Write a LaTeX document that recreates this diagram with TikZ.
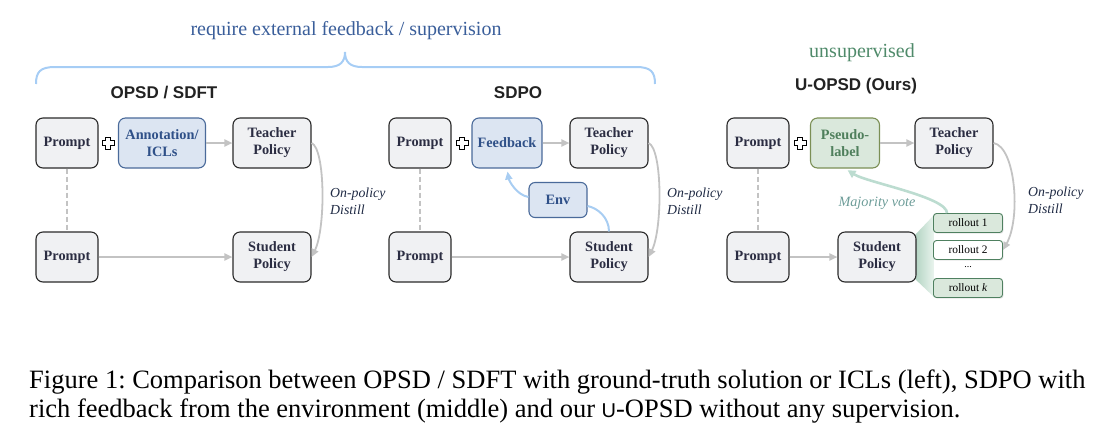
\documentclass[tikz,border=0pt]{standalone}
\usepackage{fontspec}
\setmainfont{Liberation Serif}
\setsansfont{Liberation Sans}
\usetikzlibrary{arrows.meta,calc,shadows}
\definecolor{boxfill}{HTML}{F0F1F3}
\definecolor{boxdraw}{HTML}{2A2A2A}
\definecolor{boxtext}{HTML}{2B2D42}
\definecolor{bluefill}{HTML}{DCE5F2}
\definecolor{bluedraw}{HTML}{4A6A9A}
\definecolor{bluetext}{HTML}{2F5088}
\definecolor{greenfill}{HTML}{DAE8DC}
\definecolor{greendraw}{HTML}{7B8F55}
\definecolor{greentext}{HTML}{4F7F5C}
\definecolor{rolldraw}{HTML}{4F8060}
\definecolor{arrgray}{HTML}{C3C3C3}
\definecolor{envblue}{HTML}{A8CDF2}
\definecolor{mvteal}{HTML}{BCDCD0}
\definecolor{mvtext}{HTML}{6C9C98}
\definecolor{titleblue}{HTML}{3A5E9A}
\definecolor{unsupgreen}{HTML}{4F8A6A}
\definecolor{headtext}{HTML}{222222}
\definecolor{distext}{HTML}{1F2A44}
\definecolor{bracecol}{HTML}{A6CDF5}
\definecolor{fanA}{HTML}{AFD2C0}
\definecolor{fanB}{HTML}{EAF4EE}
\tikzset{
  basebox/.style={rounded corners=7pt, line width=1.1pt, minimum height=50pt,
    align=center, inner sep=0pt, font=\fontsize{14.3}{17}\selectfont\bfseries},
  gbox/.style={basebox, draw=boxdraw, fill=boxfill, text=boxtext},
  bbox/.style={basebox, draw=bluedraw, fill=bluefill, text=bluetext},
  grbox/.style={basebox, draw=greendraw, fill=greenfill, text=greentext},
  rollbox/.style={rounded corners=3pt, line width=0.9pt, draw=rolldraw, fill=greenfill,
    minimum width=69pt, minimum height=19pt, inner sep=0pt,
    drop shadow={shadow xshift=1pt, shadow yshift=-1.2pt, opacity=0.2},
    font=\fontsize{11.4}{13}\selectfont, text=black},
  head/.style={font=\fontsize{17}{20}\selectfont\sffamily\bfseries, text=headtext},
  grayarr/.style={draw=arrgray, line width=1.8pt, -{Triangle[length=8pt,width=7pt]}},
  distarr/.style={draw=arrgray, line width=1.8pt, -{Triangle[length=8pt,width=7pt]}},
  distlabel/.style={font=\fontsize{13.8}{17}\selectfont\itshape, text=distext, align=left, anchor=west, inner sep=0pt},
  dashline/.style={draw=arrgray, line width=1.6pt, dash pattern=on 5pt off 3pt},
  envarr/.style={draw=envblue, line width=2pt, -{Triangle[length=8pt,width=7pt]}},
  envline/.style={draw=envblue, line width=2pt},
  mvarr/.style={draw=mvteal, line width=2.6pt, -{Triangle[length=8pt,width=8pt]}},
  captext/.style={anchor=base west, inner sep=0pt, font=\fontsize{26.5}{29}\selectfont},
  plussign/.pic={\draw[line width=0.9pt, fill=white, line join=miter]
    (-2.1,-6) -- (2.1,-6) -- (2.1,-2.1) -- (6,-2.1) -- (6,2.1) -- (2.1,2.1)
    -- (2.1,6) -- (-2.1,6) -- (-2.1,2.1) -- (-6,2.1) -- (-6,-2.1) -- (-2.1,-2.1) -- cycle;}
}
\frenchspacing
\begin{document}
\begin{tikzpicture}[x=1pt,y=-1pt]
\useasboundingbox (0,0) rectangle (1115,440);

% title and brace
\node[font=\fontsize{20}{24}\selectfont, text=titleblue] (title) at (346,31) {require external feedback / supervision};
\draw[draw=bracecol, line width=2pt]
  (36,84) .. controls (36,72) and (40,67) .. (55,67) -- (328,67)
  .. controls (340,67) and (345,62) .. (345,52)
  .. controls (345,62) and (350,67) .. (362,67) -- (636,67)
  .. controls (651,67) and (655,72) .. (655,84);
\node[font=\fontsize{20}{24}\selectfont, text=unsupgreen] (unsup) at (862,53) {unsupervised};

% headers
\node[head] (h1) at (164,93) {OPSD / SDFT};
\node[head] (h2) at (518,93) {SDPO};
\node[head] (h3) at (856,86) {U-OPSD (Ours)};

% ---------- panel 1 ----------
\node[gbox, minimum width=62pt] (pt1) at (67,143) {Prompt};
\node[bbox, minimum width=87pt] (an1) at (162,143) {Annotation/\\ICLs};
\node[gbox, minimum width=78pt] (tp1) at (272,143) {Teacher\\Policy};
\node[gbox, minimum width=62pt] (pb1) at (67,257) {Prompt};
\node[gbox, minimum width=78pt] (st1) at (272,257) {Student\\Policy};
\pic at (108,143) {plussign};
\draw[grayarr] (an1) -- (tp1);
\draw[dashline] (pt1) -- (pb1);
\draw[grayarr] (pb1) -- (st1);
\draw[distarr] (tp1.east) .. controls +(14,6) and +(14,-28) .. (st1.east);
\node[distlabel] (d1) at (330,201) {On-policy\\Distill};

% ---------- panel 2 ----------
\node[gbox, minimum width=62pt] (pt2) at (420,143) {Prompt};
\node[bbox, minimum width=70pt] (fb2) at (507,143) {Feedback};
\node[gbox, minimum width=78pt] (tp2) at (609,143) {Teacher\\Policy};
\node[bbox, minimum width=58pt, minimum height=35pt, rounded corners=6pt] (env) at (558,200) {Env};
\node[gbox, minimum width=62pt] (pb2) at (420,257) {Prompt};
\node[gbox, minimum width=78pt] (st2) at (609,257) {Student\\Policy};
\pic at (462,143) {plussign};
\draw[grayarr] (fb2) -- (tp2);
\draw[dashline] (pt2) -- (pb2);
\draw[grayarr] (pb2) -- (st2);
\draw[distarr] (tp2.east) .. controls +(14,6) and +(14,-28) .. (st2.east);
\node[distlabel] (d2) at (667,201) {On-policy\\Distill};
\draw[envarr, shorten >=3pt] ($(env.west)+(0,-3)$) .. controls +(-12,-2) and +(2,12) .. (fb2.south);
\draw[envline] (st2.north) .. controls +(0,-14) and +(10,2) .. ($(env.east)+(0,6)$);

% ---------- panel 3 ----------
\node[gbox, minimum width=62pt] (pt3) at (758,143) {Prompt};
\node[grbox, minimum width=69pt] (ps3) at (845,143) {Pseudo-\\label};
\node[gbox, minimum width=78pt] (tp3) at (954,143) {Teacher\\Policy};
\node[gbox, minimum width=62pt] (pb3) at (758,257) {Prompt};
\coordinate (stc) at (877,257);
\coordinate (fanTL) at (914,236);
\coordinate (fanBL) at (914,278);
\coordinate (fanTR) at (934,215);
\coordinate (fanBR) at (934,297);
\shade[left color=fanA, right color=fanB] (fanTL) -- (fanTR) -- (fanBR) -- (fanBL) -- cycle;
\node[gbox, minimum width=78pt] (st3) at (stc) {Student\\Policy};
\pic at (800,143) {plussign};
\draw[grayarr] (ps3) -- (tp3);
\draw[dashline] (pt3) -- (pb3);
\draw[grayarr] (pb3) -- (st3);

\node[rollbox] (r1) at (968,223) {rollout 1};
\node[rollbox, fill=white] (r2) at (968,250) {rollout 2};
\node[font=\fontsize{10}{12}\selectfont, inner sep=0pt] (dots) at (968,267) {...};
\node[rollbox] (rk) at (968,288) {rollout \textit{k}};

\draw[mvarr, shorten >=3pt] ($(r1.north)+(-21,0)$) .. controls +(0,-16) and +(22,14) .. (ps3.south);
\node[font=\fontsize{14.2}{17}\selectfont\itshape, text=mvtext] (mv) at (877,203) {Majority vote};
\draw[distarr] (tp3.east) .. controls +(22,4) and +(18,-32) .. (r2.east);
\node[distlabel] (d3) at (1028,200) {On-policy\\Distill};

% caption
\node[captext] (cap1) at (29,388)
  {Figure 1: Comparison between OPSD / SDFT with ground-truth solution or ICLs (left), SDPO with};
\node[captext] (cap2) at (29,417)
  {rich feedback from the environment (middle) and our {\sffamily\fontsize{20}{22}\selectfont U}-OPSD without any supervision.};
\end{tikzpicture}
\end{document}
